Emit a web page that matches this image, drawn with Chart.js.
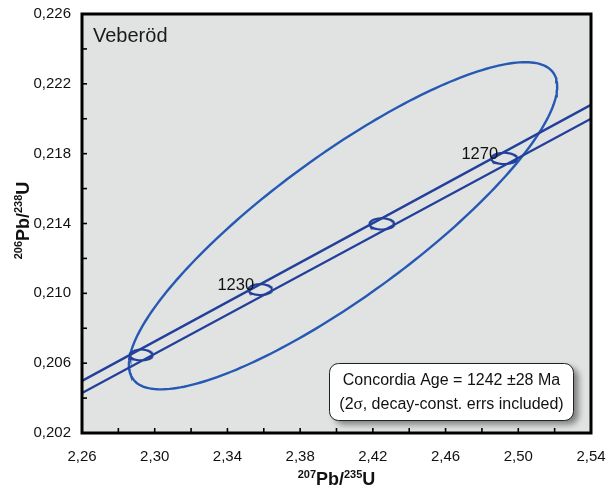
<!DOCTYPE html>
<html><head><meta charset="utf-8">
<script src="https://cdn.jsdelivr.net/npm/chart.js@4.4.1/dist/chart.umd.min.js"></script>
<style>html,body{margin:0;padding:0;background:#fff}canvas{display:block}</style>
</head><body>
<canvas id="c" width="606" height="495"></canvas>
<script>
// ---- axis ticks ----
const xTickValues = [2.26,2.28,2.30,2.32,2.34,2.36,2.38,2.40,2.42,2.44,2.46,2.48,2.50,2.52,2.54];
const xTickLabels = ['2,26','','2,30','','2,34','','2,38','','2,42','','2,46','','2,50','','2,54'];
const yTickValues = [0.202,0.204,0.206,0.208,0.210,0.212,0.214,0.216,0.218,0.220,0.222,0.224,0.226];
const yTickLabels = ['0,202','','0,206','','0,210','','0,214','','0,218','','0,222','','0,226'];

// ---- concordia band (decay-constant envelope) ----
const concordiaX = [2.26, 2.54];
const concordiaUpperY = [0.20498, 0.22080];
const concordiaLowerY = [0.20429, 0.22000];

// ---- age marks on concordia (Ma) ----
const ageMa = [1210, 1230, 1250, 1270];
const ageX = [2.2926, 2.3580, 2.4249, 2.4922];
const ageY = [0.20647, 0.21022, 0.21398, 0.21773];
const ageErrX = [0.0062, 0.0065, 0.0068, 0.0071];
const ageErrY = [0.00031, 0.00031, 0.00032, 0.00032];
const ageLabels = ['', '1230', '', '1270'];

// ---- data-point error ellipse (2 sigma) ----
const dataEllipseX = [2.4036];
const dataEllipseY = [0.21387];
const dataEllipseErrX = [0.1178];
const dataEllipseErrY = [0.00937];
const dataEllipseRho = [0.851];

const sampleName = 'Veberöd';
const resultLine1 = 'Concordia Age = 1242 ±28 Ma';

function ellipseOutline(cx, cy, ex, ey, rho) {
  const pts = [];
  const n = 240, s = Math.sqrt(1 - rho * rho);
  for (let i = 0; i <= n; i++) {
    const t = 2 * Math.PI * i / n;
    pts.push({x: cx + ex * Math.cos(t), y: cy + ey * (rho * Math.cos(t) + s * Math.sin(t))});
  }
  return pts;
}

const LINE = '#22409a';
const ELL = '#2659b3';
const datasets = [];
datasets.push({data: concordiaX.map((x, i) => ({x, y: concordiaUpperY[i]})), borderColor: LINE, borderWidth: 2.4});
datasets.push({data: concordiaX.map((x, i) => ({x, y: concordiaLowerY[i]})), borderColor: LINE, borderWidth: 2.4});
ageMa.forEach((a, i) => datasets.push({data: ellipseOutline(ageX[i], ageY[i], ageErrX[i], ageErrY[i], 0), borderColor: LINE, borderWidth: 2}));
dataEllipseX.forEach((x, i) => datasets.push({data: ellipseOutline(x, dataEllipseY[i], dataEllipseErrX[i], dataEllipseErrY[i], dataEllipseRho[i]), borderColor: ELL, borderWidth: 2.4}));
datasets.forEach(d => Object.assign(d, {showLine: true, pointRadius: 0, fill: false, tension: 0}));

const FONT = '"Liberation Sans", Arial, sans-serif';

function drawRich(ctx, pieces, cx, baseY) {
  let total = 0;
  pieces.forEach(p => { ctx.font = p.sup ? 'bold 11px ' + FONT : 'bold 18px ' + FONT; p.w = ctx.measureText(p.t).width; total += p.w; });
  let x = cx - total / 2;
  pieces.forEach(p => {
    ctx.font = p.sup ? 'bold 11px ' + FONT : 'bold 18px ' + FONT;
    ctx.fillText(p.t, x, p.sup ? baseY - 7 : baseY);
    x += p.w;
  });
}

const decor = {
  id: 'decor',
  beforeDraw(chart) {
    const {ctx, chartArea: a} = chart;
    ctx.save();
    ctx.fillStyle = '#e1e3e3';
    ctx.fillRect(a.left, a.top, a.right - a.left, a.bottom - a.top);
    ctx.restore();
  },
  afterDatasetsDraw(chart) {
    const {ctx, chartArea: a, scales} = chart;
    const xs = scales.x, ys = scales.y;
    ctx.save();
    // inward ticks
    ctx.strokeStyle = '#000'; ctx.lineWidth = 1.6;
    xs.ticks.forEach(t => { const p = xs.getPixelForValue(t.value); ctx.beginPath(); ctx.moveTo(p, a.bottom); ctx.lineTo(p, a.bottom - 5); ctx.stroke(); });
    ys.ticks.forEach(t => { const p = ys.getPixelForValue(t.value); ctx.beginPath(); ctx.moveTo(a.left, p); ctx.lineTo(a.left + 5, p); ctx.stroke(); });
    // frame
    ctx.lineWidth = 3; ctx.strokeStyle = '#000';
    ctx.strokeRect(a.left, a.top, a.right - a.left, a.bottom - a.top);

    // age labels
    ctx.fillStyle = '#111'; ctx.font = '16.5px ' + FONT; ctx.textAlign = 'right'; ctx.textBaseline = 'alphabetic';
    ageLabels.forEach((l, i) => { if (l) ctx.fillText(l, xs.getPixelForValue(ageX[i]) - 6, ys.getPixelForValue(ageY[i]) + 1); });

    // sample name
    ctx.textAlign = 'left'; ctx.font = '20px ' + FONT; ctx.fillStyle = '#1a1a1a';
    ctx.fillText(sampleName, 93, 42);

    // result box
    const bx = 329.5, by = 363.5, bw = 244, bh = 57;
    ctx.save();
    ctx.shadowColor = 'rgba(0,0,0,0.45)'; ctx.shadowBlur = 6; ctx.shadowOffsetX = 5; ctx.shadowOffsetY = 4;
    ctx.beginPath(); ctx.roundRect(bx, by, bw, bh, 9); ctx.fillStyle = '#fff'; ctx.fill();
    ctx.restore();
    ctx.beginPath(); ctx.roundRect(bx, by, bw, bh, 9); ctx.lineWidth = 1; ctx.strokeStyle = '#222'; ctx.stroke();
    ctx.fillStyle = '#111'; ctx.textAlign = 'center'; ctx.font = '16px ' + FONT;
    const cx = bx + bw / 2;
    ctx.fillText(resultLine1, cx, 385);
    // second line with serif sigma
    const p1 = '(2', p2 = 'σ', p3 = ', decay-const. errs included)';
    ctx.font = '16px ' + FONT; const w1 = ctx.measureText(p1).width, w3 = ctx.measureText(p3).width;
    ctx.font = '17px "Liberation Serif", serif'; const w2 = ctx.measureText(p2).width;
    let x0 = cx - (w1 + w2 + w3) / 2;
    ctx.textAlign = 'left';
    ctx.font = '16px ' + FONT; ctx.fillText(p1, x0, 409);
    ctx.font = '17px "Liberation Serif", serif'; ctx.fillText(p2, x0 + w1, 409);
    ctx.font = '16px ' + FONT; ctx.fillText(p3, x0 + w1 + w2, 409);

    // axis titles
    ctx.fillStyle = '#111'; ctx.textAlign = 'left';
    drawRich(ctx, [{t: '207', sup: true}, {t: 'Pb/'}, {t: '235', sup: true}, {t: 'U'}], (a.left + a.right) / 2, 485);
    ctx.save();
    ctx.translate(29, (a.top + a.bottom) / 2 - 3);
    ctx.rotate(-Math.PI / 2);
    drawRich(ctx, [{t: '206', sup: true}, {t: 'Pb/'}, {t: '238', sup: true}, {t: 'U'}], 0, 0);
    ctx.restore();
    ctx.restore();
  }
};

new Chart(document.getElementById('c'), {
  type: 'scatter',
  data: {datasets},
  options: {
    responsive: false, devicePixelRatio: 1, animation: false,
    layout: {padding: {top: 14, right: 15, left: 0, bottom: 0}},
    plugins: {legend: {display: false}, tooltip: {enabled: false}},
    scales: {
      x: {
        type: 'linear', min: 2.26, max: 2.54,
        afterBuildTicks: s => { s.ticks = xTickValues.map(v => ({value: v})); },
        afterFit: s => { s.height = 62; s.paddingLeft = 0; s.paddingRight = 0; },
        grid: {display: false, drawTicks: false}, border: {display: false},
        ticks: {autoSkip: false, maxRotation: 0, padding: 15, color: '#111', font: {family: FONT, size: 15},
          callback: (v, i) => xTickLabels[i]}
      },
      y: {
        type: 'linear', min: 0.202, max: 0.226,
        afterBuildTicks: s => { s.ticks = yTickValues.map(v => ({value: v})); },
        afterFit: s => { s.width = 82; s.paddingTop = 0; s.paddingBottom = 0; },
        grid: {display: false, drawTicks: false}, border: {display: false},
        ticks: {autoSkip: false, padding: 11, color: '#111', font: {family: FONT, size: 15},
          callback: (v, i) => yTickLabels[i]}
      }
    }
  },
  plugins: [decor]
});
</script>
</body></html>
